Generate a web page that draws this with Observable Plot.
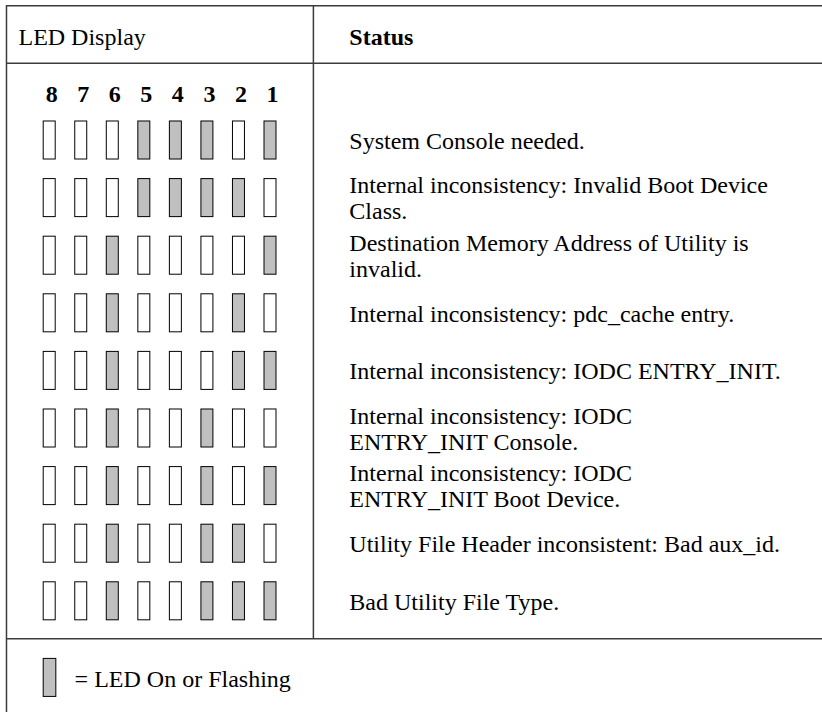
<!DOCTYPE html>
<html>
<head>
<meta charset="utf-8">
<script src="https://cdn.jsdelivr.net/npm/d3@7"></script>
<script src="https://cdn.jsdelivr.net/npm/@observablehq/plot@0.6"></script>
<style>
  html, body { margin: 0; padding: 0; background: white; }
  svg text { font-family: "Liberation Serif", "Times New Roman", serif !important; }
</style>
</head>
<body>
<div id="chart"></div>
<script>
// ---- Data ----
const ledNumbers = [8, 7, 6, 5, 4, 3, 2, 1];
// LED pattern of each row as hex code (bit 8 ... bit 1)
const ledCodes = ["1D", "1E", "21", "22", "23", "24", "25", "26", "27"];
const statusText = [
  "System Console needed.",
  "Internal inconsistency: Invalid Boot Device\nClass.",
  "Destination Memory Address of Utility is\ninvalid.",
  "Internal inconsistency: pdc_cache entry.",
  "Internal inconsistency: IODC ENTRY_INIT.",
  "Internal inconsistency: IODC\nENTRY_INIT Console.",
  "Internal inconsistency: IODC\nENTRY_INIT Boot Device.",
  "Utility File Header inconsistent: Bad aux_id.",
  "Bad Utility File Type."
];
const headerLabels = ["LED Display", "Status"];
const legendLabel = "= LED On or Flashing";

// ---- Derived tables ----
const leds = ledCodes.flatMap((code, row) =>
  ledNumbers.map((n, col) => ({row, col, on: (parseInt(code, 16) >> (n - 1)) & 1}))
);
const statuses = statusText.map((text, row) => ({row, text}));
const digits = ledNumbers.map((n, col) => ({col, n}));

// layout in scale units (x: LED column, y: table row)
const X_LEFT = -1.37, X_DIV = 8.36, X_END = 30, X_STATUS = 9.5, X_HEAD1 = -0.99;
const Y_TOP = -2.34, Y_HEAD = -1.34, Y_FOOT = 8.65, Y_END = 12;
const Y_HEAD_TEXT = -1.65, Y_DIGITS = -0.66, Y_LEGEND = 9.33, Y_LEGEND_TEXT = 9.48;
const HW = 0.19, HH = 0.33;
const lineColor = "#3c3c3c";
const onFill = "#c0c0c0";
const FONT = "Liberation Serif";

const chart = Plot.plot({
  width: 822,
  height: 712,
  margin: 0,
  x: {type: "linear", domain: [0, 7], range: [49.2, 270], axis: null},
  y: {type: "linear", domain: [0, 8], range: [140, 600.8], axis: null},
  style: {fontSize: "24px", background: "white", color: "black"},
  marks: [
    // table lines
    Plot.ruleY([Y_TOP, Y_HEAD, Y_FOOT], {x1: X_LEFT, x2: X_END, stroke: lineColor, strokeWidth: 1.5}),
    Plot.ruleX([X_LEFT], {y1: Y_TOP, y2: Y_END, stroke: lineColor, strokeWidth: 1.5}),
    Plot.ruleX([X_DIV], {y1: Y_TOP, y2: Y_FOOT, stroke: lineColor, strokeWidth: 1.5}),
    // headers
    Plot.text([headerLabels[0]], {x: X_HEAD1, y: Y_HEAD_TEXT, text: (d) => d, textAnchor: "start", lineAnchor: "bottom", fontFamily: FONT, fontSize: 24, fill: "black"}),
    Plot.text([headerLabels[1]], {x: X_STATUS, y: Y_HEAD_TEXT, text: (d) => d, textAnchor: "start", lineAnchor: "bottom", fontFamily: FONT, fontSize: 24, fontWeight: "bold", fill: "black"}),
    // LED numbers
    Plot.text(digits, {x: "col", y: Y_DIGITS, text: (d) => String(d.n), dx: 2, lineAnchor: "bottom", fontFamily: FONT, fontSize: 24, fontWeight: "bold", fill: "black"}),
    // LEDs
    Plot.rect(leds.filter((d) => !d.on), {x1: (d) => d.col - HW, x2: (d) => d.col + HW, y1: (d) => d.row - HH, y2: (d) => d.row + HH, fill: "white", stroke: "black", strokeWidth: 1}),
    Plot.rect(leds.filter((d) => d.on), {x1: (d) => d.col - HW, x2: (d) => d.col + HW, y1: (d) => d.row - HH, y2: (d) => d.row + HH, fill: onFill, stroke: "black", strokeWidth: 1}),
    // status text
    Plot.text(statuses, {x: X_STATUS, y: "row", text: "text", textAnchor: "start", lineAnchor: "middle", lineHeight: 1.083, fontFamily: FONT, fontSize: 24, fill: "black"}),
    // legend
    Plot.rect([0], {x1: (d) => d - HW, x2: (d) => d + HW + 0.02, y1: Y_LEGEND - HH, y2: Y_LEGEND + HH, fill: onFill, stroke: "black", strokeWidth: 1}),
    Plot.text([legendLabel], {x: 0.79, y: Y_LEGEND_TEXT, text: (d) => d, textAnchor: "start", lineAnchor: "bottom", fontFamily: FONT, fontSize: 24, fill: "black"})
  ]
});
document.getElementById("chart").appendChild(chart);
</script>
</body>
</html>
